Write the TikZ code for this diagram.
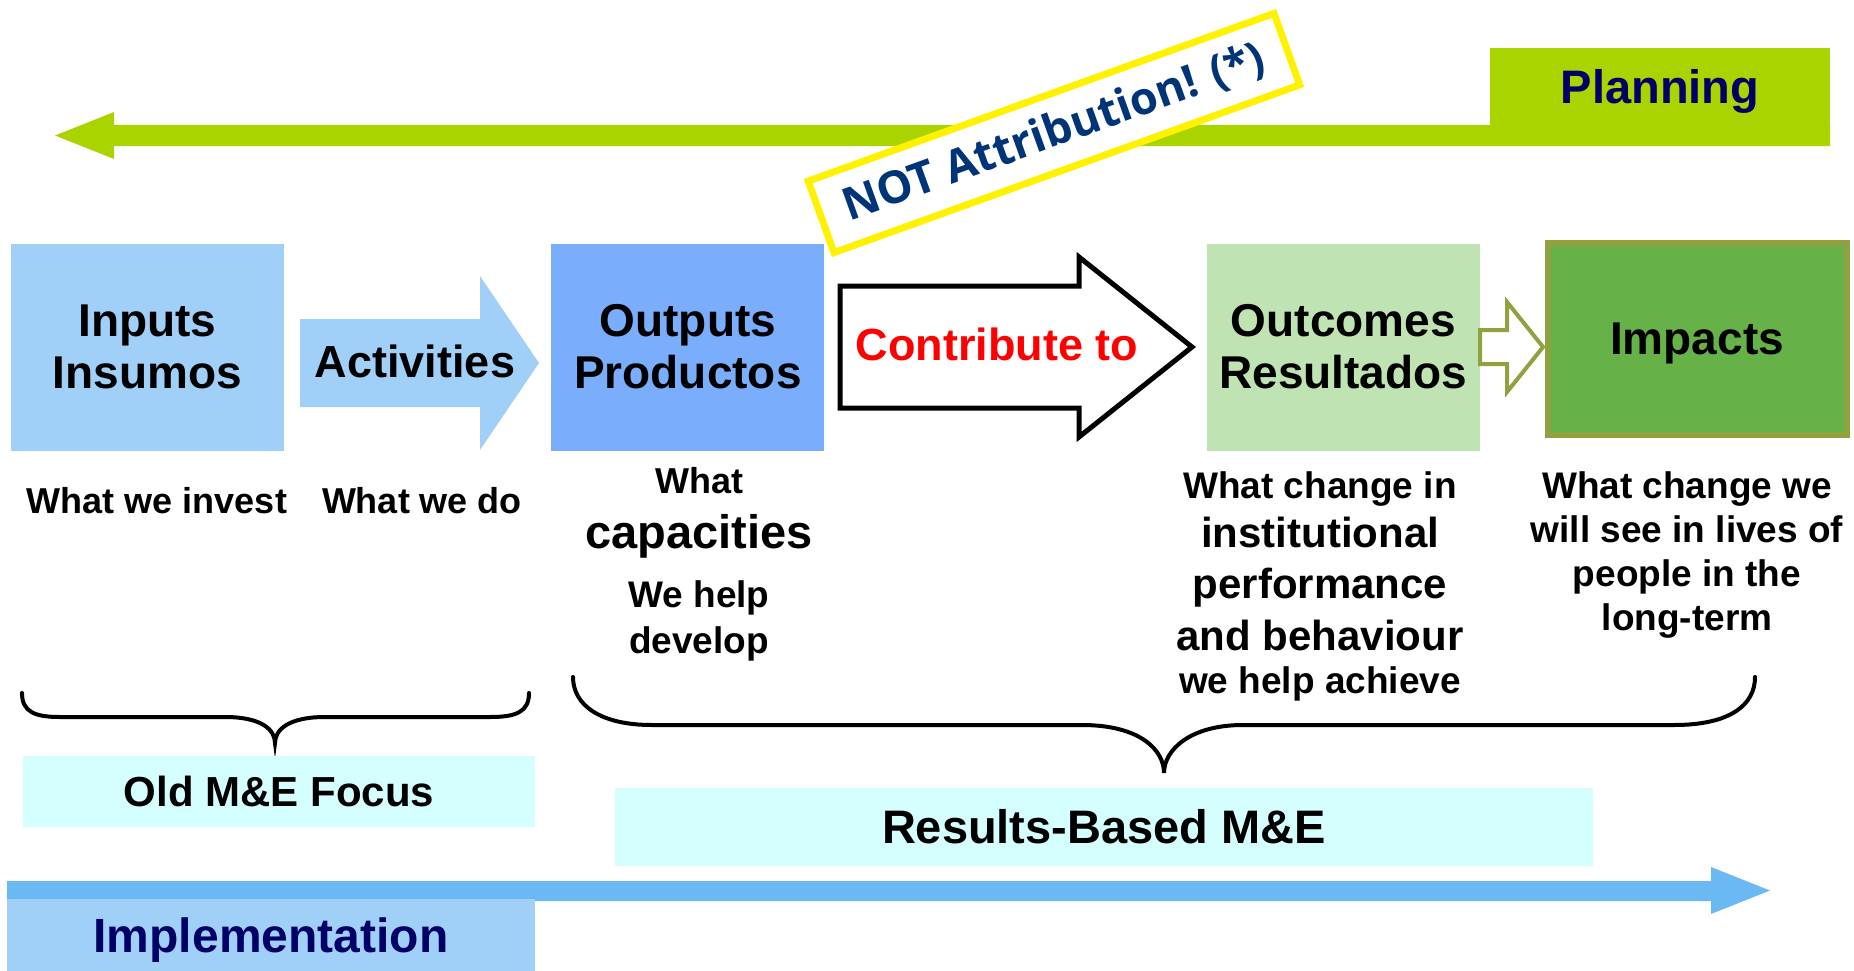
\documentclass[tikz,border=0pt]{standalone}
\usepackage{fontspec}
\setmainfont{Liberation Sans}
\newfontfamily\notefont{Open Sans}
\usetikzlibrary{positioning, calc}
\definecolor{planGreen}{HTML}{AAD400}
\definecolor{inputBlue}{HTML}{A0CFF8}
\definecolor{outputBlue}{HTML}{7AAEFC}
\definecolor{outcomeGreen}{HTML}{BFE3B2}
\definecolor{impactGreen}{HTML}{66B148}
\definecolor{impactOlive}{HTML}{8FA23F}
\definecolor{focusCyan}{HTML}{D5FEFF}
\definecolor{implBlue}{HTML}{6BB9F3}
\definecolor{titleNavy}{HTML}{000066}
\definecolor{noteBlue}{HTML}{003478}
\tikzstyle{stage} =[minimum width=273pt, minimum height=207pt, inner sep=0pt, align=center, font=\fontsize{46}{52}\selectfont\bfseries]
\tikzstyle{focusbox} =[fill=focusCyan, inner sep=0pt]
\tikzstyle{descsmall} =[anchor=base, inner sep=0pt, font=\fontsize{37}{44}\selectfont\bfseries]
\tikzstyle{descbig} =[anchor=base, inner sep=0pt, font=\fontsize{42}{50}\selectfont\bfseries]

\begin{document}
\begin{tikzpicture}[x=1pt, y=-1pt]
\useasboundingbox (0,0) rectangle (1854,971);

%planning arrow
\fill[planGreen] (55,135.5) -- (114,112) -- (114,125) -- (1830,125) -- (1830,146) -- (114,146) -- (114,159) -- cycle;
\node (planning) [fill=planGreen, minimum width=340pt, minimum height=77pt, inner sep=0pt, text depth=0pt, text=titleNavy, font=\fontsize{47}{56}\selectfont\bfseries] at (1660,86.5) {Planning};

\node (attrib) [draw=yellow, line width=7pt, fill=white, rotate=19.8, minimum width=495pt, minimum height=76pt, inner sep=0pt, text=noteBlue, font=\notefont\fontsize{45}{54}\selectfont\bfseries] at (1054,133) {NOT Attribution! (*)};

\node (inputs) [stage, fill=inputBlue] at (147.5,347) {Inputs\\Insumos};
\node (outputs) [stage, fill=outputBlue, right=267pt of inputs] {Outputs\\Productos};
\node (outcomes) [stage, fill=outcomeGreen, right=382pt of outputs] {Outcomes\\Resultados};
\node (impacts) [stage, fill=impactGreen, draw=impactOlive, line width=6pt, minimum width=299pt, minimum height=192pt, text depth=0pt] at (1697,339) {Impacts};

%activities arrow
\fill[inputBlue] (300,319) -- (480,319) -- (480,276) -- (539,363) -- (480,450) -- (480,407) -- (300,407) -- cycle;
\node (activities) [inner sep=0pt, font=\fontsize{45}{54}\selectfont\bfseries] at (415,361) {Activities};

%contribute arrow
\draw[line width=5pt, fill=white]
	(840,286) -- (1079,286) -- (1079,257) -- (1192,347) -- (1079,437) -- (1079,408) -- (840,408) -- cycle;
\node (contribute) [inner sep=0pt, text=red, font=\fontsize{45}{54}\selectfont\bfseries] at (997,344.5) {Contribute to};

\draw[line width=4pt, draw=impactOlive, fill=white]
	(1480,330) -- (1507,330) -- (1507,302) -- (1543,347) -- (1507,392) -- (1507,364) -- (1480,364) -- cycle;

\node (investTxt) [descsmall, font=\fontsize{36}{44}\selectfont\bfseries] at (157,513) {What we invest};
\node (doTxt) [descsmall, font=\fontsize{36}{44}\selectfont\bfseries] at (422,513) {What we do};

\node (capWhat) [descsmall, font=\fontsize{36}{44}\selectfont\bfseries] at (699,493) {What};
\node (capTxt) [descsmall, font=\fontsize{47}{56}\selectfont\bfseries] at (699,548) {capacities};
\node (capHelp) [descsmall] at (699,607) {We help};
\node (capDev) [descsmall] at (699,653) {develop};

\node (chgWhat) [descsmall] at (1320,498) {What change in};
\node (chgInst) [descbig] at (1320,547) {institutional};
\node (chgPerf) [descbig] at (1320,598) {performance};
\node (chgBeh) [descbig] at (1320,650) {and behaviour};
\node (chgHelp) [descsmall] at (1320,693) {we help achieve};

\node (livesTxt) [descsmall, anchor=north, align=center] at (1687,471) {What change we\\will see in lives of\\people in the\\long-term};

%braces
\draw[line width=4pt, line cap=round]
	(22,693) .. controls (22,712) and (35,717) .. (60,717) -- (225,717)
	.. controls (262,717) and (275,730) .. (275,743)
	.. controls (275,730) and (288,717) .. (325,717) -- (490,717)
	.. controls (516,717) and (529,712) .. (529,693);
\draw[line width=4pt, line cap=round]
	(573,677) .. controls (573,705) and (600,725) .. (652,725) -- (1082,725)
	.. controls (1140,725) and (1164,750) .. (1164,773)
	.. controls (1164,750) and (1190,725) .. (1243,725) -- (1674,725)
	.. controls (1730,725) and (1755,705) .. (1755,677);

\node (oldFocus) [focusbox, minimum width=512pt, minimum height=71pt, font=\fontsize{42}{50}\selectfont\bfseries] at (279,791.5) {Old M\&E Focus};
\node (rbme) [focusbox, minimum width=978pt, minimum height=78pt, font=\fontsize{47}{54}\selectfont\bfseries] at (1104,827) {Results-Based M\&E};

%implementation arrow
\fill[implBlue] (7,881) -- (1711,881) -- (1711,867) -- (1770,890.5) -- (1711,914) -- (1711,901) -- (7,901) -- cycle;
\node (implementation) [fill=inputBlue, minimum width=528pt, minimum height=72pt, inner sep=0pt, text depth=0pt, text=titleNavy, font=\fontsize{48}{56}\selectfont\bfseries] at (271,935) {Implementation};

\end{tikzpicture}
\end{document}
